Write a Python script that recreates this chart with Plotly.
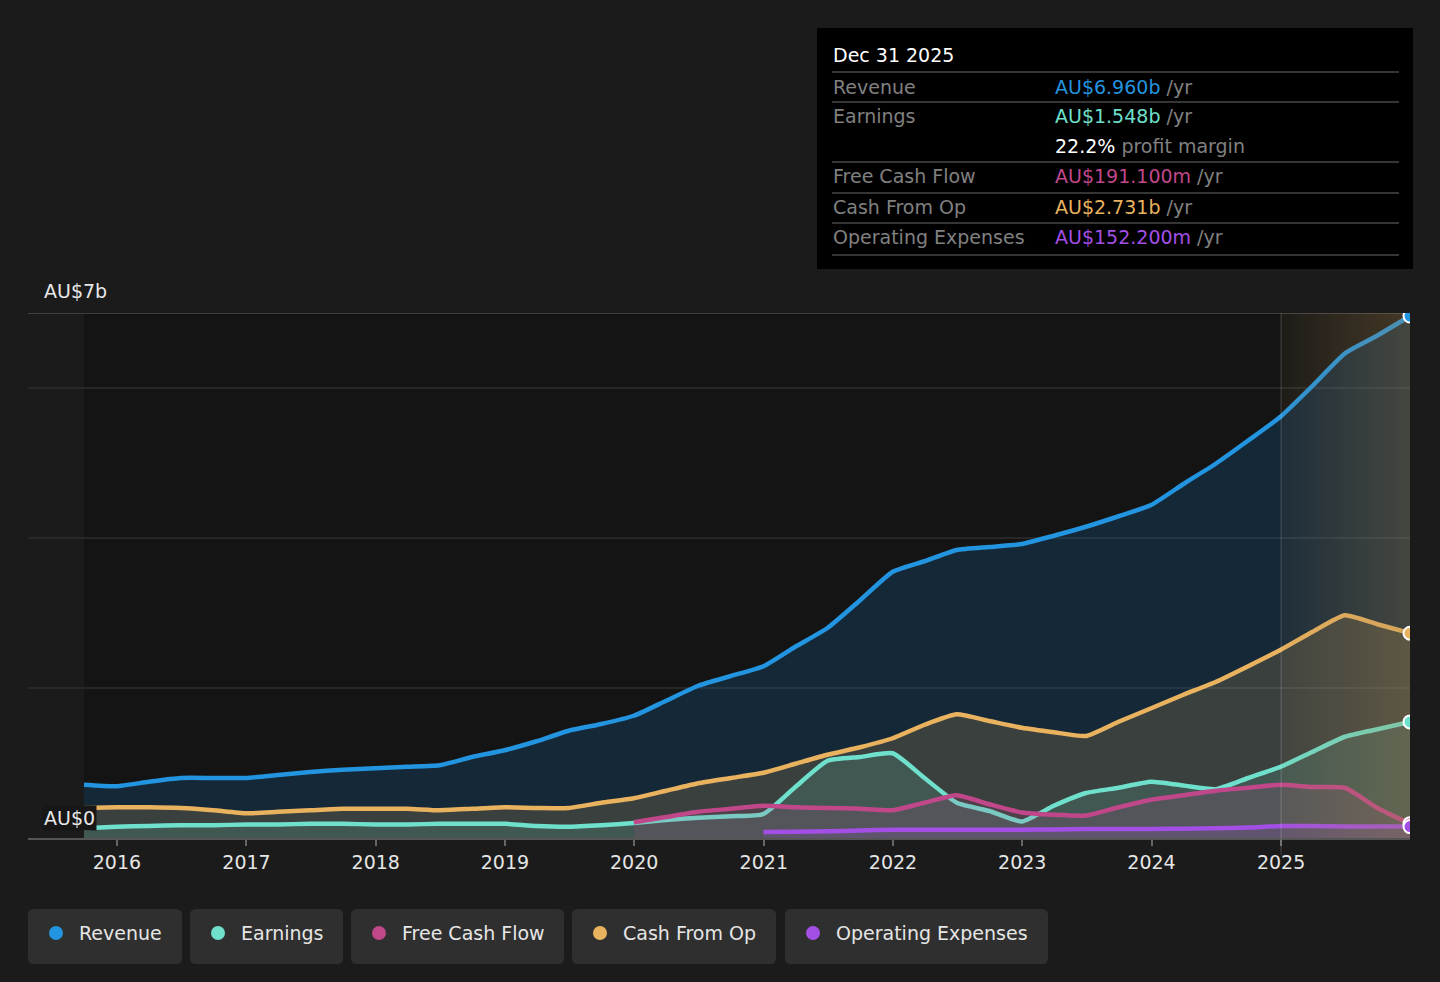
import pandas as pd
import plotly.graph_objects as go

# quarterly figures, AU$ billions (quarter ends from Sep 2015 to Dec 2025)
dates = pd.date_range("2015-09-30", "2025-12-31", freq="QE")

revenue = [0.71, 0.69, 0.75, 0.80, 0.80, 0.80, 0.84, 0.88, 0.91, 0.93,
           0.95, 0.97, 1.08, 1.17, 1.29, 1.43, 1.52, 1.63, 1.83, 2.03,
           2.16, 2.29, 2.55, 2.80, 3.17, 3.55, 3.69, 3.84, 3.88, 3.92,
           4.03, 4.15, 4.29, 4.44, 4.72, 4.99, 5.30, 5.62, 6.03, 6.46,
           6.70, 6.960]

earnings = [0.13, 0.15, 0.16, 0.17, 0.17, 0.18, 0.18, 0.19, 0.19, 0.18,
            0.18, 0.19, 0.19, 0.19, 0.16, 0.15, 0.17, 0.20, 0.24, 0.27,
            0.29, 0.32, 0.68, 1.03, 1.08, 1.13, 0.80, 0.47, 0.36, 0.22,
            0.43, 0.60, 0.67, 0.75, 0.70, 0.65, 0.80, 0.95, 1.15, 1.35,
            1.45, 1.548]

free_cash_flow = [None] * 17 + [
    0.21, 0.28, 0.35, 0.39, 0.43, 0.41, 0.40, 0.39, 0.37, 0.47,
    0.57, 0.45, 0.34, 0.31, 0.30, 0.41, 0.51, 0.57, 0.63, 0.67,
    0.71, 0.68, 0.67, 0.40, 0.1911]

cash_from_op = [0.40, 0.41, 0.41, 0.40, 0.37, 0.33, 0.35, 0.37, 0.39, 0.39,
                0.39, 0.37, 0.39, 0.41, 0.40, 0.40, 0.47, 0.53, 0.63, 0.73,
                0.80, 0.87, 0.99, 1.11, 1.21, 1.33, 1.51, 1.65, 1.56, 1.47,
                1.41, 1.36, 1.55, 1.73, 1.91, 2.08, 2.29, 2.51, 2.75, 2.97,
                2.85, 2.731]

operating_expenses = [None] * 21 + [
    0.08, 0.085, 0.09, 0.10, 0.11, 0.11, 0.11, 0.11, 0.11, 0.115,
    0.12, 0.12, 0.12, 0.125, 0.13, 0.14, 0.16, 0.16, 0.155, 0.152,
    0.1522]

year_ticks = list(range(2016, 2026))

# name, values, line colour, fill colour
series = [
    ("Revenue", revenue, "#2394DF", "rgba(20,120,200,0.20)"),
    ("Cash From Op", cash_from_op, "#E8B25F", "rgba(232,178,95,0.18)"),
    ("Earnings", earnings, "#6EE0CC", "rgba(110,224,204,0.15)"),
    ("Free Cash Flow", free_cash_flow, "#C0478A", "rgba(192,71,138,0.15)"),
    ("Operating Expenses", operating_expenses, "#A34FE6", "rgba(163,79,230,0.15)"),
]
legend_order = ["Revenue", "Earnings", "Free Cash Flow", "Cash From Op", "Operating Expenses"]
colors = {name: c for name, _, c, _ in series}

W, H = 1440, 982
L, R, T, B = 28, 30, 313, 144
PW, PH = W - L - R, H - T - B
FONT = "DejaVu Sans"
PAPER = "#1b1b1b"


def px(x):
    return (x - L) / PW


def py(y):
    return (H - B - y) / PH


def rounded(x0, y0, x1, y1, r=6):
    # rounded rectangle path in paper coords, from pixel box
    a, b, c, d = px(x0), py(y0), px(x1), py(y1)
    rx, ry = r / PW, r / PH
    return (f"M{a+rx},{b} L{c-rx},{b} Q{c},{b} {c},{b-ry} L{c},{d+ry} Q{c},{d} {c-rx},{d} "
            f"L{a+rx},{d} Q{a},{d} {a},{d+ry} L{a},{b-ry} Q{a},{b} {a+rx},{b} Z")


fig = go.Figure()

for name, vals, line_c, fill_c in series:
    fig.add_trace(go.Scatter(
        x=dates, y=vals, name=name, mode="lines",
        line=dict(color=line_c, width=4.5, shape="spline", smoothing=0.5),
        fill="tozeroy", fillcolor=fill_c, hoverinfo="skip",
    ))

# past-year highlight
hl_start, hl_end = pd.Timestamp("2025-01-01"), dates[-1]
fig.add_trace(go.Scatter(
    x=[hl_start, hl_end, hl_end, hl_start, hl_start], y=[0, 0, 7, 7, 0],
    mode="lines", line=dict(width=0), fill="toself",
    fillgradient=dict(type="horizontal", colorscale=[[0, "rgba(170,135,80,0.07)"], [1, "rgba(170,135,80,0.32)"]]),
    hoverinfo="skip", showlegend=False,
))

# end markers
for name, vals, line_c, _ in series:
    fig.add_trace(go.Scatter(
        x=[dates[-1]], y=[vals[-1]], mode="markers",
        marker=dict(size=13, color=line_c, line=dict(color="white", width=2)),
        hoverinfo="skip", showlegend=False,
    ))

shapes = [
    dict(type="rect", xref="x", yref="paper", x0=dates[0], x1=dates[-1], y0=0, y1=1,
         fillcolor="#141414", line_width=0, layer="below"),
]
for g in [2, 4, 6]:
    shapes.append(dict(type="line", xref="paper", yref="y", x0=0, x1=1, y0=g, y1=g,
                       line=dict(color="#2e2e2e", width=1.5), layer="below"))
shapes.append(dict(type="line", xref="paper", yref="y", x0=0, x1=1, y0=7, y1=7,
                   line=dict(color="#4d4d4d", width=1.5), layer="below"))
shapes.append(dict(type="line", xref="x", yref="paper", x0=hl_start, x1=hl_start, y0=py(855), y1=1,
                   line=dict(color="rgba(255,255,255,0.13)", width=1.5)))

annotations = [
    dict(text="AU$7b", xref="paper", yref="paper", x=px(42), y=py(291), xanchor="left", yanchor="middle",
         showarrow=False, font=dict(size=19, color="#e8e8e8")),
    dict(text="AU$0", xref="paper", yref="paper", x=px(42), y=py(818), xanchor="left", yanchor="middle",
         showarrow=False, font=dict(size=19, color="#e8e8e8"), bgcolor="#171717", borderpad=1),
]

# tooltip box for the latest quarter
shapes.append(dict(type="rect", xref="paper", yref="paper", x0=px(817), x1=px(1413), y0=py(28), y1=py(269),
                   fillcolor="#000000", line_width=0))
for yy in [72, 102, 162, 193, 223, 255]:
    shapes.append(dict(type="line", xref="paper", yref="paper", x0=px(832), x1=px(1399), y0=py(yy), y1=py(yy),
                       line=dict(color="#474747", width=1.5)))

margin_pct = earnings[-1] / revenue[-1] * 100
grey = "#808080"
rows = [
    (87, "Revenue", f"<span style='color:{colors['Revenue']}'>AU${revenue[-1]:.3f}b</span> /yr"),
    (116, "Earnings", f"<span style='color:{colors['Earnings']}'>AU${earnings[-1]:.3f}b</span> /yr"),
    (146, "", f"<span style='color:#ffffff'>{margin_pct:.1f}%</span> profit margin"),
    (176, "Free Cash Flow", f"<span style='color:{colors['Free Cash Flow']}'>AU${free_cash_flow[-1]*1000:.3f}m</span> /yr"),
    (207, "Cash From Op", f"<span style='color:{colors['Cash From Op']}'>AU${cash_from_op[-1]:.3f}b</span> /yr"),
    (237, "Operating Expenses", f"<span style='color:{colors['Operating Expenses']}'>AU${operating_expenses[-1]*1000:.3f}m</span> /yr"),
]
annotations.append(dict(text="Dec 31 2025", xref="paper", yref="paper", x=px(831), y=py(55),
                        xanchor="left", yanchor="middle", showarrow=False, font=dict(size=19, color="#ffffff")))
for yy, label, value in rows:
    if label:
        annotations.append(dict(text=label, xref="paper", yref="paper", x=px(831), y=py(yy),
                                xanchor="left", yanchor="middle", showarrow=False, font=dict(size=19, color=grey)))
    annotations.append(dict(text=value, xref="paper", yref="paper", x=px(1053), y=py(yy),
                            xanchor="left", yanchor="middle", showarrow=False, font=dict(size=19, color=grey)))

# legend pills
pills = [(28, 182), (190, 343), (351, 564), (572, 776), (785, 1048)]
for (x0, x1), name in zip(pills, legend_order):
    shapes.append(dict(type="path", xref="paper", yref="paper", path=rounded(x0, 909, x1, 964),
                       fillcolor="#2f2f2f", line_width=0))
    shapes.append(dict(type="circle", xref="paper", yref="paper", x0=px(x0 + 21), x1=px(x0 + 35),
                       y0=py(926), y1=py(940), fillcolor=colors[name], line_width=0))
    annotations.append(dict(text=name, xref="paper", yref="paper", x=px(x0 + 49), y=py(933),
                            xanchor="left", yanchor="middle", showarrow=False,
                            font=dict(size=19, color="#e6e6e6")))

fig.update_layout(
    width=W, height=H,
    margin=dict(l=L, r=R, t=T, b=B),
    paper_bgcolor=PAPER, plot_bgcolor=PAPER,
    font=dict(family=FONT, color="#e6e6e6"),
    showlegend=False,
    shapes=shapes, annotations=annotations,
    xaxis=dict(
        range=["2015-04-25", "2025-12-31"],
        tickvals=[pd.Timestamp(f"{y}-01-01") for y in year_ticks],
        ticktext=[str(y) for y in year_ticks],
        ticks="outside", ticklen=6, tickcolor="#666666", tickwidth=1.5,
        showgrid=False, zeroline=False,
        showline=True, linecolor="#555555", linewidth=1.5,
        tickfont=dict(size=19, color="#e6e6e6"),
    ),
    yaxis=dict(range=[0, 7], showgrid=False, zeroline=False, showticklabels=False),
)

# drop the default page margin so the figure sits at the top-left corner
fig.write_html("out.html", config={"displayModeBar": False},
               post_script="document.body.style.margin='0';document.body.style.background='#1b1b1b';")
